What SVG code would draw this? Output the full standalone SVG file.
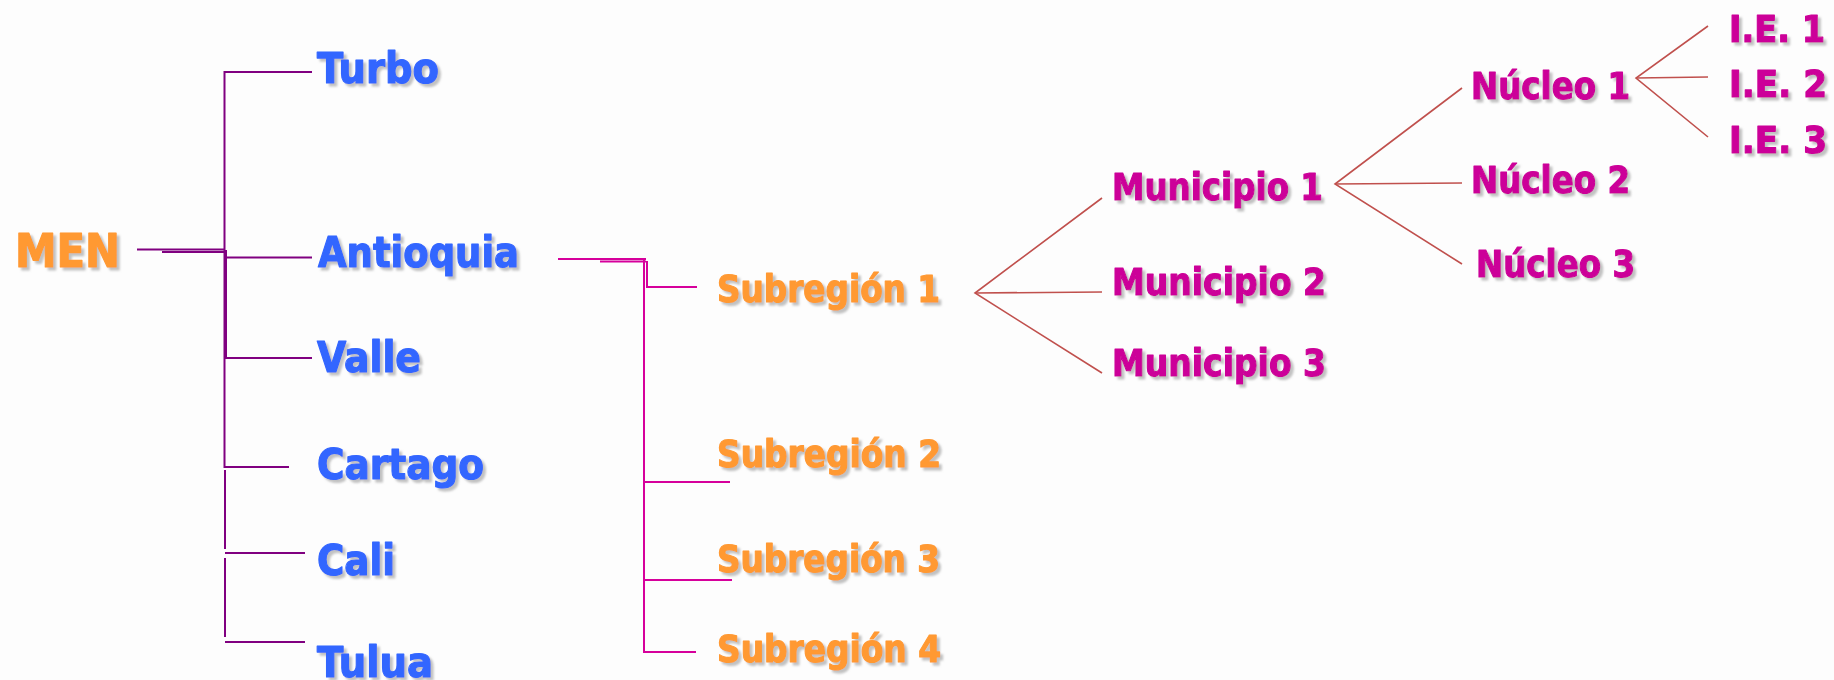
<svg xmlns="http://www.w3.org/2000/svg" width="1834" height="680" viewBox="0 0 1834 680">
<defs>
<filter id="sh" x="-10%" y="-20%" width="130%" height="150%">
<feGaussianBlur in="SourceAlpha" stdDeviation="1.2"/>
<feOffset dx="2.5" dy="2.5" result="b"/>
<feFlood flood-color="#9a9a9a" flood-opacity="0.6"/>
<feComposite in2="b" operator="in"/>
<feMerge><feMergeNode/><feMergeNode in="SourceGraphic"/></feMerge>
</filter>
</defs>
<style>
text{font-family:"DejaVu Sans Condensed","DejaVu Sans","Liberation Sans",sans-serif;font-weight:bold;filter:url(#sh);stroke-width:1.1;stroke-linejoin:round}
.men{fill:#FF9933;stroke:#FF9933;font-size:46px}
.blue{fill:#3366FF;stroke:#3366FF;font-size:42px}
.sub{fill:#FF9933;stroke:#FF9933;font-size:37px}
.mag{fill:#CC0099;stroke:#CC0099;font-size:37px}
.p{stroke:#800080;stroke-width:2;fill:none}
.m{stroke:#D6009B;stroke-width:2;fill:none}
.r{stroke:#C0504D;stroke-width:1.6;fill:none}
</style>
<rect width="1834" height="680" fill="#FDFDFD"/>
<g id="connectors">
<g id="men-tree">
<line class="p" x1="137" y1="249.5" x2="225" y2="249.5"/>
<line class="p" x1="162" y1="252" x2="225" y2="252"/>
<line class="p" x1="224.5" y1="71" x2="224.5" y2="468"/>
<line class="p" x1="226" y1="250" x2="226" y2="358"/>
<line class="p" x1="224" y1="72" x2="312" y2="72"/>
<line class="p" x1="225" y1="257.5" x2="312" y2="257.5"/>
<line class="p" x1="225" y1="358" x2="312" y2="358"/>
<line class="p" x1="225" y1="467" x2="289" y2="467"/>
<line class="p" x1="225" y1="470" x2="225" y2="549"/>
<line class="p" x1="225" y1="553" x2="305" y2="553"/>
<line class="p" x1="225" y1="558" x2="225" y2="637"/>
<line class="p" x1="225" y1="642" x2="305" y2="642"/>
</g>
<g id="antioquia-tree">
<line class="m" x1="558" y1="259" x2="646" y2="259"/>
<line class="m" x1="600" y1="261.5" x2="646" y2="261.5"/>
<polyline class="m" points="647,261 647,287 697,287"/>
<line class="m" x1="644" y1="260" x2="644" y2="653"/>
<line class="m" x1="644" y1="482" x2="730" y2="482"/>
<line class="m" x1="644" y1="580" x2="732" y2="580"/>
<line class="m" x1="644" y1="652" x2="696" y2="652"/>
</g>
<g id="sub1-tree">
<polyline class="r" points="1102,198 975,293 1102,373"/>
<line class="r" x1="975" y1="293" x2="1102" y2="292"/>
<polyline class="r" points="1462,88 1335,184 1462,264"/>
<line class="r" x1="1335" y1="184" x2="1462" y2="183"/>
<polyline class="r" points="1708,26 1636,78 1708,137"/>
<line class="r" x1="1636" y1="78" x2="1708" y2="77"/>
</g>
</g>
<g id="men"><text class="men" x="15" y="267" textLength="105" lengthAdjust="spacingAndGlyphs">MEN</text></g>
<g id="turbo"><text class="blue" x="317" y="83" textLength="122" lengthAdjust="spacingAndGlyphs">Turbo</text></g>
<g id="antioquia"><text class="blue" x="318" y="267" textLength="201" lengthAdjust="spacingAndGlyphs">Antioquia</text></g>
<g id="valle"><text class="blue" x="317" y="372" textLength="104" lengthAdjust="spacingAndGlyphs">Valle</text></g>
<g id="cartago"><text class="blue" x="317" y="479" textLength="167" lengthAdjust="spacingAndGlyphs">Cartago</text></g>
<g id="cali"><text class="blue" x="317" y="575" textLength="78" lengthAdjust="spacingAndGlyphs">Cali</text></g>
<g id="tulua"><text class="blue" x="317" y="677" textLength="116" lengthAdjust="spacingAndGlyphs">Tulua</text></g>
<g id="subregion1"><text class="sub" x="717" y="302" textLength="223" lengthAdjust="spacingAndGlyphs">Subregión 1</text></g>
<g id="subregion2"><text class="sub" x="717" y="467" textLength="224" lengthAdjust="spacingAndGlyphs">Subregión 2</text></g>
<g id="subregion3"><text class="sub" x="717" y="572" textLength="223" lengthAdjust="spacingAndGlyphs">Subregión 3</text></g>
<g id="subregion4"><text class="sub" x="717" y="662" textLength="224" lengthAdjust="spacingAndGlyphs">Subregión 4</text></g>
<g id="municipio1"><text class="mag" x="1112" y="200" textLength="211" lengthAdjust="spacingAndGlyphs">Municipio 1</text></g>
<g id="municipio2"><text class="mag" x="1112" y="295" textLength="214" lengthAdjust="spacingAndGlyphs">Municipio 2</text></g>
<g id="municipio3"><text class="mag" x="1112" y="376" textLength="214" lengthAdjust="spacingAndGlyphs">Municipio 3</text></g>
<g id="nucleo1"><text class="mag" x="1471" y="99" textLength="159" lengthAdjust="spacingAndGlyphs">Núcleo 1</text></g>
<g id="nucleo2"><text class="mag" x="1471" y="193" textLength="159" lengthAdjust="spacingAndGlyphs">Núcleo 2</text></g>
<g id="nucleo3"><text class="mag" x="1476" y="277" textLength="159" lengthAdjust="spacingAndGlyphs">Núcleo 3</text></g>
<g id="ie1"><text class="mag" x="1729" y="42" textLength="96" lengthAdjust="spacingAndGlyphs">I.E. 1</text></g>
<g id="ie2"><text class="mag" x="1729" y="97" textLength="98" lengthAdjust="spacingAndGlyphs">I.E. 2</text></g>
<g id="ie3"><text class="mag" x="1729" y="153" textLength="98" lengthAdjust="spacingAndGlyphs">I.E. 3</text></g>
</svg>
